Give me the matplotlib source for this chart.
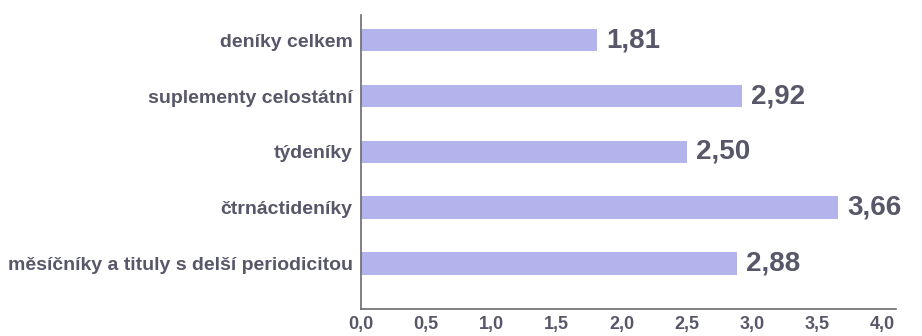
import matplotlib
matplotlib.use("Agg")
import matplotlib.pyplot as plt

categories = ["deníky celkem", "suplementy celostátní", "týdeníky",
              "čtrnáctideníky", "měsíčníky a tituly s delší periodicitou"]
values = [1.81, 2.92, 2.50, 3.66, 2.88]
xticks = [0.0, 0.5, 1.0, 1.5, 2.0, 2.5, 3.0, 3.5, 4.0]

plt.rcParams["font.family"] = ["Liberation Sans", "DejaVu Sans"]
plt.rcParams["font.weight"] = "bold"
txt = "#575769"
bar_col = "#b4b4ec"

fig = plt.figure(figsize=(9.22, 3.36), dpi=100)
ax = fig.add_axes([0.3915, 0.08, 0.58, 0.875])

pos = list(range(len(categories)))
ax.barh(pos, values, height=0.4, color=bar_col)
for p, v in zip(pos, values):
    ax.text(v + 0.07, p, f"{v:.2f}".replace(".", ","), va="center", ha="left",
            fontsize=20, color=txt, fontweight="bold")

ax.set_ylim(4.82, -0.45)
ax.set_xlim(0, 4.1)
ax.set_yticks(pos)
ax.set_yticklabels(categories, fontsize=14, color=txt, fontweight="bold")
ax.set_xticks(xticks)
ax.set_xticklabels([f"{t:.1f}".replace(".", ",") for t in xticks],
                   fontsize=13, color=txt, fontweight="bold")
ax.tick_params(axis="y", length=0, pad=6)
ax.tick_params(axis="x", length=0, pad=5)
for s in ["top", "right"]:
    ax.spines[s].set_visible(False)
for s in ["left", "bottom"]:
    ax.spines[s].set_color("#6a6a72")
    ax.spines[s].set_linewidth(1.2)

fig.savefig("out.png", dpi=100)
